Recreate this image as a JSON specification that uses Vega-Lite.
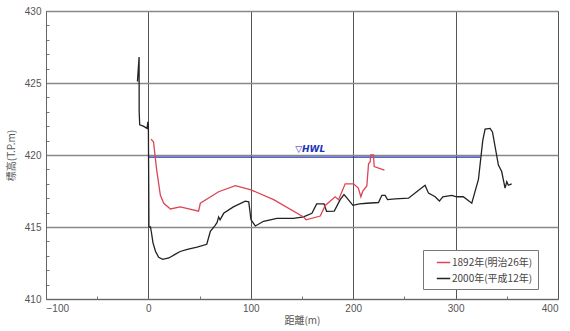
{
  "$schema": "https://vega.github.io/schema/vega-lite/v6.json",
  "width": 512,
  "height": 288,
  "autosize": {"type": "none"},
  "padding": {"left": 46, "top": 11, "right": 12, "bottom": 32},
  "background": "white",
  "config": {
    "font": "Noto Sans CJK JP",
    "view": {"stroke": "#666", "strokeWidth": 1},
    "axis": {"labelFont": "Liberation Sans", "labelColor": "#555", "labelFontSize": 10, "titleFont": "Noto Sans CJK JP", "titleFontWeight": "normal", "titleColor": "#555", "titleFontSize": 10, "domainColor": "#666", "labelOverlap": false}
  },
  "datasets": {
    "profiles": [
      {"series": "2000年(平成12年)", "x": -9.1, "y": 426.8},
      {"series": "2000年(平成12年)", "x": -10.7, "y": 425.1},
      {"series": "2000年(平成12年)", "x": -9.0, "y": 423.0},
      {"series": "2000年(平成12年)", "x": -8.5, "y": 422.1},
      {"series": "2000年(平成12年)", "x": -5, "y": 422.0},
      {"series": "2000年(平成12年)", "x": -1.3, "y": 421.85},
      {"series": "2000年(平成12年)", "x": -0.5, "y": 422.3},
      {"series": "2000年(平成12年)", "x": 0, "y": 421.8},
      {"series": "2000年(平成12年)", "x": 0.3, "y": 418},
      {"series": "2000年(平成12年)", "x": 0.5, "y": 415.0},
      {"series": "2000年(平成12年)", "x": 2, "y": 415.0},
      {"series": "2000年(平成12年)", "x": 3, "y": 414.6},
      {"series": "2000年(平成12年)", "x": 4.5, "y": 413.9},
      {"series": "2000年(平成12年)", "x": 7, "y": 413.3},
      {"series": "2000年(平成12年)", "x": 10, "y": 412.9},
      {"series": "2000年(平成12年)", "x": 14, "y": 412.75},
      {"series": "2000年(平成12年)", "x": 20, "y": 412.85},
      {"series": "2000年(平成12年)", "x": 26, "y": 413.1},
      {"series": "2000年(平成12年)", "x": 31, "y": 413.3},
      {"series": "2000年(平成12年)", "x": 38, "y": 413.45},
      {"series": "2000年(平成12年)", "x": 47.5, "y": 413.6},
      {"series": "2000年(平成12年)", "x": 57, "y": 413.8},
      {"series": "2000年(平成12年)", "x": 60.5, "y": 414.7},
      {"series": "2000年(平成12年)", "x": 65, "y": 415.1},
      {"series": "2000年(平成12年)", "x": 67, "y": 415.3},
      {"series": "2000年(平成12年)", "x": 68.6, "y": 415.7},
      {"series": "2000年(平成12年)", "x": 70, "y": 415.5},
      {"series": "2000年(平成12年)", "x": 73.5, "y": 415.95},
      {"series": "2000年(平成12年)", "x": 83, "y": 416.4},
      {"series": "2000年(平成12年)", "x": 94.6, "y": 416.8},
      {"series": "2000年(平成12年)", "x": 98, "y": 416.75},
      {"series": "2000年(平成12年)", "x": 100.2, "y": 415.5},
      {"series": "2000年(平成12年)", "x": 104.4, "y": 415.07},
      {"series": "2000年(平成12年)", "x": 112.5, "y": 415.4},
      {"series": "2000年(平成12年)", "x": 125.5, "y": 415.6},
      {"series": "2000年(平成12年)", "x": 141.8, "y": 415.6},
      {"series": "2000年(平成12年)", "x": 151.5, "y": 415.7},
      {"series": "2000年(平成12年)", "x": 159.7, "y": 415.95},
      {"series": "2000年(平成12年)", "x": 164.3, "y": 416.6},
      {"series": "2000年(平成12年)", "x": 171.5, "y": 416.6},
      {"series": "2000年(平成12年)", "x": 174, "y": 416.08},
      {"series": "2000年(平成12年)", "x": 181.5, "y": 416.1},
      {"series": "2000年(平成12年)", "x": 187.3, "y": 416.9},
      {"series": "2000年(平成12年)", "x": 191, "y": 417.25},
      {"series": "2000年(平成12年)", "x": 194, "y": 417.0},
      {"series": "2000年(平成12年)", "x": 199.7, "y": 416.5},
      {"series": "2000年(平成12年)", "x": 206, "y": 416.6},
      {"series": "2000年(平成12年)", "x": 213.3, "y": 416.65},
      {"series": "2000年(平成12年)", "x": 224.7, "y": 416.7},
      {"series": "2000年(平成12年)", "x": 228, "y": 417.2},
      {"series": "2000年(平成12年)", "x": 231.2, "y": 417.2},
      {"series": "2000年(平成12年)", "x": 233.5, "y": 416.9},
      {"series": "2000年(平成12年)", "x": 241, "y": 416.95},
      {"series": "2000年(平成12年)", "x": 254, "y": 417.0},
      {"series": "2000年(平成12年)", "x": 262, "y": 417.45},
      {"series": "2000年(平成12年)", "x": 270.2, "y": 417.9},
      {"series": "2000年(平成12年)", "x": 273.5, "y": 417.35},
      {"series": "2000年(平成12年)", "x": 280, "y": 417.1},
      {"series": "2000年(平成12年)", "x": 284.2, "y": 416.8},
      {"series": "2000年(平成12年)", "x": 287.5, "y": 417.1},
      {"series": "2000年(平成12年)", "x": 296.3, "y": 417.2},
      {"series": "2000年(平成12年)", "x": 301, "y": 417.1},
      {"series": "2000年(平成12年)", "x": 307.5, "y": 417.1},
      {"series": "2000年(平成12年)", "x": 315.8, "y": 416.65},
      {"series": "2000年(平成12年)", "x": 322.3, "y": 418.3},
      {"series": "2000年(平成12年)", "x": 326.5, "y": 421.0},
      {"series": "2000年(平成12年)", "x": 328.8, "y": 421.8},
      {"series": "2000年(平成12年)", "x": 333.7, "y": 421.85},
      {"series": "2000年(平成12年)", "x": 336, "y": 421.6},
      {"series": "2000年(平成12年)", "x": 341.8, "y": 419.3},
      {"series": "2000年(平成12年)", "x": 345, "y": 418.85},
      {"series": "2000年(平成12年)", "x": 348.3, "y": 417.7},
      {"series": "2000年(平成12年)", "x": 350, "y": 418.15},
      {"series": "2000年(平成12年)", "x": 351.5, "y": 417.9},
      {"series": "2000年(平成12年)", "x": 354.8, "y": 418.0},
      {"series": "1892年(明治26年)", "x": 2.6, "y": 421.1},
      {"series": "1892年(明治26年)", "x": 5, "y": 420.9},
      {"series": "1892年(明治26年)", "x": 8, "y": 419.0},
      {"series": "1892年(明治26年)", "x": 11.7, "y": 417.2},
      {"series": "1892年(明治26年)", "x": 15, "y": 416.65},
      {"series": "1892年(明治26年)", "x": 21.5, "y": 416.25},
      {"series": "1892年(明治26年)", "x": 31.2, "y": 416.4},
      {"series": "1892年(明治26年)", "x": 49, "y": 416.1},
      {"series": "1892年(明治26年)", "x": 50.7, "y": 416.65},
      {"series": "1892年(明治26年)", "x": 68.6, "y": 417.45},
      {"series": "1892年(明治26年)", "x": 84.9, "y": 417.87},
      {"series": "1892年(明治26年)", "x": 99.5, "y": 417.6},
      {"series": "1892年(明治26年)", "x": 122.3, "y": 416.9},
      {"series": "1892年(明治26年)", "x": 151.5, "y": 415.7},
      {"series": "1892年(明治26年)", "x": 154, "y": 415.5},
      {"series": "1892年(明治26年)", "x": 167.8, "y": 415.76},
      {"series": "1892年(明治26年)", "x": 172.7, "y": 416.5},
      {"series": "1892年(明治26年)", "x": 182.4, "y": 417.1},
      {"series": "1892年(明治26年)", "x": 185.7, "y": 416.9},
      {"series": "1892年(明治26年)", "x": 192.2, "y": 418.0},
      {"series": "1892年(明治26年)", "x": 200.3, "y": 418.0},
      {"series": "1892年(明治26年)", "x": 205, "y": 417.7},
      {"series": "1892年(明治26年)", "x": 207.5, "y": 417.1},
      {"series": "1892年(明治26年)", "x": 209.4, "y": 417.5},
      {"series": "1892年(明治26年)", "x": 213.3, "y": 417.85},
      {"series": "1892年(明治26年)", "x": 215, "y": 419.4},
      {"series": "1892年(明治26年)", "x": 216.5, "y": 419.5},
      {"series": "1892年(明治26年)", "x": 217.2, "y": 420.0},
      {"series": "1892年(明治26年)", "x": 219.8, "y": 420.0},
      {"series": "1892年(明治26年)", "x": 220.5, "y": 419.2},
      {"series": "1892年(明治26年)", "x": 230.5, "y": 418.95}
    ],
    "hwl": [
      {"x": 0, "y": 419.85},
      {"x": 324, "y": 419.85}
    ],
    "hwlLabel": [
      {"x": 158, "y": 420.1, "label": "▽HWL"}
    ]
  },
  "encoding": {
    "x": {"field": "x", "type": "quantitative", "scale": {"domain": [-100, 400], "nice": false},
      "axis": {"values": [-100, -50, 0, 50, 100, 150, 200, 250, 300, 350, 400], "title": "距離(m)", "titleY": 16, "labelPadding": 4,
        "labelExpr": "datum.value % 100 === 0 ? format(datum.value, 'd') : ''",
        "grid": true,
        "gridColor": "#555",
        "gridOpacity": {"condition": {"test": "datum.value % 100 === 0", "value": 1}, "value": 0},
        "tickColor": "#777",
        "tickSize": {"condition": {"test": "datum.value % 100 === 0", "value": 0}, "value": -3}}},
    "y": {"field": "y", "type": "quantitative", "scale": {"domain": [410, 430], "nice": false, "zero": false},
      "axis": {"values": [410,411,412,413,414,415,416,417,418,419,420,421,422,423,424,425,426,427,428,429,430], "title": "標高(T.P.m)", "titleX": -30, "titleY": 144, "labelPadding": 5,
        "labelExpr": "datum.value % 5 === 0 ? format(datum.value, 'd') : ''",
        "grid": true,
        "gridColor": "#888",
        "gridWidth": 1.5,
        "gridOpacity": {"condition": {"test": "datum.value % 5 === 0", "value": 1}, "value": 0},
        "tickColor": "#777",
        "tickSize": {"condition": {"test": "datum.value % 5 === 0", "value": 0}, "value": -3}}}
  },
  "layer": [
    {
      "data": {"name": "hwl"},
      "mark": {"type": "line", "color": "#2233bb", "strokeWidth": 1.3}
    },
    {
      "data": {"name": "hwlLabel"},
      "mark": {"type": "text", "color": "#2233bb", "fontStyle": "italic", "fontWeight": "bold", "fontSize": 9, "font": "DejaVu Sans", "baseline": "bottom"},
      "encoding": {
        "text": {"field": "label"}
      }
    },
    {
      "data": {"name": "profiles"},
      "mark": {"type": "line", "strokeWidth": 1.3},
      "encoding": {
        "color": {"field": "series", "type": "nominal",
          "scale": {"domain": ["1892年(明治26年)", "2000年(平成12年)"], "range": ["#dd4455", "#222222"]},
          "legend": {"title": null, "orient": "none", "legendX": 377, "legendY": 239, "symbolType": "stroke", "symbolSize": 180, "symbolStrokeWidth": 1.5, "labelFontSize": 10, "labelFont": "Noto Sans CJK JP", "labelColor": "#444", "strokeColor": "#777", "fillColor": "white", "padding": 5, "rowPadding": 3, "labelOffset": 1, "symbolOffset": 8}
        },
        "order": {"field": "x", "type": "quantitative"}
      }
    }
  ]
}
